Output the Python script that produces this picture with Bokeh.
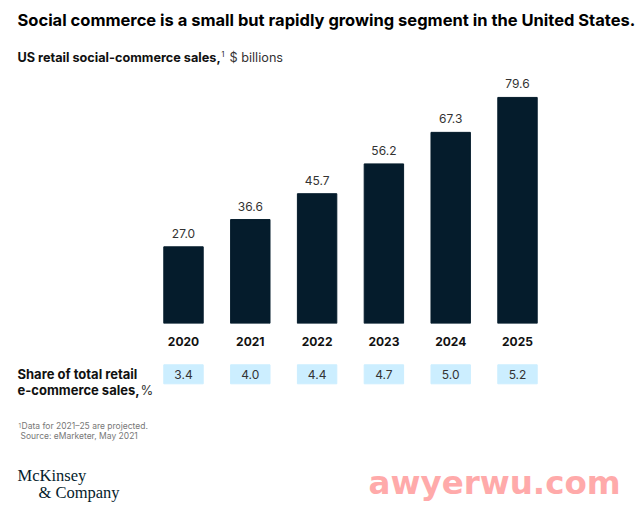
from bokeh.core.properties import value
from bokeh.embed import file_html
from bokeh.layouts import column
from bokeh.models import ColumnDataSource, FixedTicker, Label, Range1d
from bokeh.plotting import figure
from bokeh.resources import INLINE

years = [2020, 2021, 2022, 2023, 2024, 2025]
sales = [27.0, 36.6, 45.7, 56.2, 67.3, 79.6]
share = [3.4, 4.0, 4.4, 4.7, 5.0, 5.2]

FONT = "Inter"
NAVY = "#051C2C"
BLUE = "#CCEEFF"
W, H1, H2 = 636, 358, 145
BOTTOM1 = 35
STEP = 66.8
X0 = 2020 - 183 / STEP
X1 = X0 + W / STEP


def add_text(fig, frame_h, x, y, text, size, style="normal", color="#111111", font=FONT):
    # x, y are pixels from the top left of the figure, y is the text baseline
    fig.add_layout(Label(x=x, y=frame_h - y + 5, x_units="screen", y_units="screen",
                         text=text, text_font=font, text_font_size=size,
                         text_font_style=style, text_color=color,
                         text_baseline="alphabetic"))


def blank(height):
    fig = figure(width=W, height=height, output_backend="svg", toolbar_location=None,
                 x_range=Range1d(X0, X1), min_border_left=0, min_border_right=0,
                 min_border_top=0, outline_line_color=None)
    fig.grid.visible = False
    fig.yaxis.visible = False
    return fig


p = blank(H1)
p.min_border_bottom = BOTTOM1
p.y_range = Range1d(0, (H1 - BOTTOM1) / 2.84)
p.xaxis.ticker = FixedTicker(ticks=years)
p.xaxis.major_label_overrides = {y: str(y) for y in years}
p.xaxis.axis_line_color = None
p.xaxis.major_tick_line_color = None
p.xaxis.minor_tick_line_color = None
p.xaxis.major_label_standoff = 7
p.xaxis.major_label_text_font = FONT
p.xaxis.major_label_text_font_size = "12px"
p.xaxis.major_label_text_font_style = "bold"
p.xaxis.major_label_text_color = "#111111"

src = ColumnDataSource(dict(year=years, sales=sales, label=["%.1f" % v for v in sales]))
p.vbar(x="year", top="sales", width=0.59, color=NAVY, source=src)
p.text(x="year", y="sales", text="label", source=src, y_offset=-9, text_align="center",
       text_baseline="bottom", text_font=value(FONT), text_font_size="12px", text_color="#333333")

F1 = H1 - BOTTOM1
add_text(p, F1, 17, 24, "Social commerce is a small but rapidly growing segment in the United States.", "16.5px", "bold", "#000000")
add_text(p, F1, 17, 62, "US retail social-commerce sales,", "12.7px", "bold")
add_text(p, F1, 221, 58, "1", "7px")
add_text(p, F1, 229, 62, "$ billions", "12.7px", color="#333333")

q = blank(H2)
q.min_border_bottom = 0
q.xaxis.visible = False
q.y_range = Range1d(H2, 0)

src2 = ColumnDataSource(dict(year=years, share=share, label=["%.1f" % v for v in share]))
q.vbar(x="year", bottom=6.3, top=25.3, width=0.59, color=BLUE, source=src2)
q.text(x="year", y=16, text="label", source=src2, text_align="center", text_baseline="middle",
       text_font=value(FONT), text_font_size="12px", text_color="#333333")

add_text(q, H2, 17, 20, "Share of total retail", "13px", "bold")
add_text(q, H2, 17, 36, "e-commerce sales,", "13px", "bold")
add_text(q, H2, 140, 36, "%", "13px", color="#333333")
add_text(q, H2, 18, 72, "1", "6px", color="#777777")
add_text(q, H2, 21, 72, "Data for 2021\u201325 are projected.", "8.5px", color="#777777")
add_text(q, H2, 20, 82, "Source: eMarketer, May 2021", "8.5px", color="#777777")
add_text(q, H2, 17, 122, "McKinsey", "16.5px", color=NAVY, font="Liberation Serif")
add_text(q, H2, 38, 139, "& Company", "16.5px", color=NAVY, font="Liberation Serif")
add_text(q, H2, 368, 129, "awyerwu.com", "32.5px", "bold", "#FFAAAA", font="DejaVu Sans")

page = column(p, q, spacing=0)
open("out.html", "w").write(file_html(page, INLINE))
